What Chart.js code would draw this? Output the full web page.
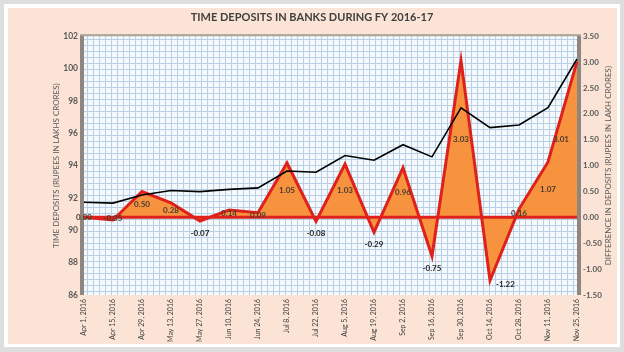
<!DOCTYPE html>
<html>
<head>
<meta charset="utf-8">
<style>
  html, body { margin: 0; padding: 0; background: #dedede; }
  canvas { display: block; }
</style>
<script src="https://cdn.jsdelivr.net/npm/chart.js@4/dist/chart.umd.min.js"></script>
</head>
<body>
<canvas id="tdChart" width="624" height="352"></canvas>
<script>
'use strict';

/* ── 데이터 ── */
const DATES = [
  'Apr 1, 2016', 'Apr 15, 2016', 'Apr 29, 2016', 'May 13, 2016', 'May 27, 2016', 'Jun 10, 2016',
  'Jun 24, 2016', 'Jul 8, 2016', 'Jul 22, 2016', 'Aug 5, 2016', 'Aug 19, 2016', 'Sep 2, 2016',
  'Sep 16, 2016', 'Sep 30, 2016', 'Oct 14, 2016', 'Oct 28, 2016', 'Nov 11, 2016', 'Nov 25, 2016',
];
// 정기예금 (lakh crores, 왼쪽 축)
const DEPOSITS = [
  91.73, 91.68, 92.18, 92.46, 92.39, 92.53,
  92.62, 93.67, 93.59, 94.62, 94.33, 95.29,
  94.54, 97.57, 96.35, 96.51, 97.58, 100.59,
];
// 전기 대비 증감 (오른쪽 축)
const DIFFS = [
  0.00, -0.05, 0.50, 0.28, -0.07, 0.14,
  0.09, 1.05, -0.08, 1.03, -0.29, 0.96,
  -0.75, 3.03, -1.22, 0.16, 1.07, 3.01,
];
const LEFT_TICKS  = { min: 86, max: 102, step: 2 };
const RIGHT_TICKS = { min: -1.5, max: 3.5, step: 0.5 };

const TITLE       = 'TIME DEPOSITS IN BANKS DURING FY 2016-17';
const LEFT_TITLE  = 'TIME DEPOSITS (RUPEES IN LAKHS CRORES)';
const RIGHT_TITLE = 'DIFFERENCE IN DEPOSITS (RUPEES IN LAKH CRORES)';

const FONT = 'Lato, "Open Sans", sans-serif';

/* ── 배경 프레임 + 격자 패턴 ── */
const framePlugin = {
  id: 'frame',
  beforeDraw(chart) {
    const { ctx, width, height, chartArea: a } = chart;
    ctx.save();
    ctx.fillStyle = '#dedede';
    ctx.fillRect(0, 0, width, height);
    ctx.fillStyle = '#ffffff';
    ctx.fillRect(4, 4, width - 8, height - 9);
    ctx.fillStyle = '#fbe4d6';
    ctx.fillRect(8, 8, width - 15, height - 16);

    // 모눈 종이 패턴
    ctx.fillStyle = '#f6f9fc';
    ctx.fillRect(a.left, a.top, a.right - a.left, a.bottom - a.top);
    ctx.strokeStyle = '#b7d0e8';
    ctx.lineWidth = 1;
    ctx.beginPath();
    for (let x = a.left + 3; x < a.right; x += 6) {
      ctx.moveTo(Math.round(x) + 0.5, a.top);
      ctx.lineTo(Math.round(x) + 0.5, a.bottom);
    }
    for (let y = a.top + 3; y < a.bottom; y += 6) {
      ctx.moveTo(a.left, Math.round(y) + 0.5);
      ctx.lineTo(a.right, Math.round(y) + 0.5);
    }
    ctx.stroke();

    // 그림자 테두리
    ctx.fillStyle = '#8f8680';
    ctx.fillRect(a.left - 4, a.top - 1, 4, a.bottom - a.top + 1);
    ctx.fillRect(a.right, a.top - 1, 4, a.bottom - a.top + 1);
    ctx.fillStyle = '#a8a09a';
    ctx.fillRect(a.left - 4, a.top - 2, a.right - a.left + 8, 2);
    ctx.restore();
  },
};

/* ── 0 기준선 + 데이터 레이블 + 오른쪽 축 제목 ── */
const labelPlugin = {
  id: 'diffLabels',
  afterDatasetDraw(chart, args) {
    if (args.index !== 1) return;
    const { ctx, chartArea: a } = chart;
    const y1 = chart.scales.y1;
    const zy = y1.getPixelForValue(0);
    ctx.save();
    ctx.strokeStyle = '#de221b';
    ctx.lineWidth = 3;
    ctx.beginPath();
    ctx.moveTo(a.left, zy);
    ctx.lineTo(a.right, zy);
    ctx.stroke();
    ctx.restore();
  },
  afterDraw(chart) {
    const { ctx, chartArea: a } = chart;
    const x  = chart.scales.x;
    const y1 = chart.scales.y1;
    ctx.save();
    ctx.font = 'bold 8px ' + FONT;
    ctx.textBaseline = 'middle';
    DIFFS.forEach((v, i) => {
      const text = v.toFixed(2);
      const half = ctx.measureText(text).width / 2;
      const px = x.getPixelForValue(i);
      const py = y1.getPixelForValue(v);
      let ty, tx = Math.min(px, a.right - half - 8), align = 'center';
      if (v >= -0.06) {
        ty = y1.getPixelForValue(v / 2);
        ctx.fillStyle = '#4a3a30';
      } else {
        ty = py + 12;
        ctx.fillStyle = '#1e1e1e';
        if (ty > a.bottom - 12) { ty = py + 4; tx = px + 6; align = 'left'; }
      }
      ctx.textAlign = align;
      ctx.fillText(text, tx, ty);
    });

    // 오른쪽 축 제목 (아래→위)
    ctx.font = '8px ' + FONT;
    ctx.fillStyle = '#595959';
    ctx.textAlign = 'center';
    ctx.translate(608, (a.top + a.bottom) / 2);
    ctx.rotate(-Math.PI / 2);
    ctx.fillText(RIGHT_TITLE, 0, 0);
    ctx.restore();
  },
};

/* ── 차트 ── */
new Chart(document.getElementById('tdChart'), {
  type: 'line',
  data: {
    labels: DATES,
    datasets: [
      {
        label: 'Time deposits',
        data: DEPOSITS,
        yAxisID: 'y',
        borderColor: '#000000',
        borderWidth: 1.6,
        pointRadius: 0,
        tension: 0,
        fill: false,
        order: 0,
      },
      {
        label: 'Difference',
        data: DIFFS,
        yAxisID: 'y1',
        borderColor: '#de221b',
        backgroundColor: '#f7923f',
        borderWidth: 3,
        pointRadius: 0,
        tension: 0,
        fill: 'origin',
        order: 1,
      },
    ],
  },
  options: {
    responsive: false,
    animation: false,
    devicePixelRatio: 1,
    layout: { padding: 0 },
    plugins: {
      legend: { display: false },
      tooltip: { enabled: false },
      title: {
        display: true,
        text: TITLE,
        color: '#404040',
        font: { family: FONT, size: 11, weight: 'bold' },
        padding: { top: 11, bottom: 12 },
      },
    },
    scales: {
      x: {
        offset: false,
        grid: { display: false, drawTicks: false },
        border: { display: false },
        ticks: {
          autoSkip: false, minRotation: 90, maxRotation: 90, padding: 4,
          color: '#404040', font: { family: FONT, size: 7 },
        },
        afterFit: s => { s.height = 57; },
      },
      y: {
        position: 'left',
        min: LEFT_TICKS.min, max: LEFT_TICKS.max,
        grid: { display: false, drawTicks: false },
        border: { display: false },
        ticks: {
          stepSize: LEFT_TICKS.step, padding: 6,
          color: '#595959', font: { family: FONT, size: 8.5, weight: 'bold' },
        },
        title: {
          display: true, text: LEFT_TITLE, color: '#595959',
          font: { family: FONT, size: 8 }, padding: { top: 52, bottom: 0 },
        },
        afterFit: s => { s.width = 84; },
      },
      y1: {
        position: 'right',
        min: RIGHT_TICKS.min, max: RIGHT_TICKS.max,
        grid: { display: false, drawTicks: false },
        border: { display: false },
        ticks: {
          stepSize: RIGHT_TICKS.step, padding: 6,
          color: '#595959', font: { family: FONT, size: 8, weight: 'bold' },
          callback: v => Number(v).toFixed(2),
        },
        afterFit: s => { s.width = 47; },
      },
    },
  },
  plugins: [framePlugin, labelPlugin],
});
</script>
</body>
</html>
